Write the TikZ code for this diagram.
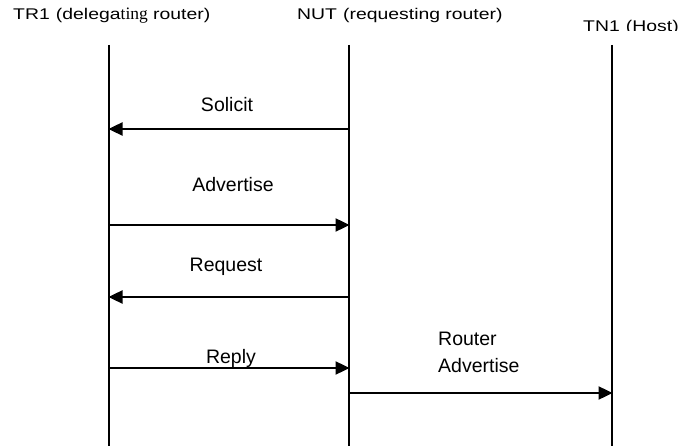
\documentclass[tikz,border=0pt]{standalone}
\usepackage{fontspec}
\setmainfont{Liberation Sans}
\newfontfamily\titlefont[FakeStretch=1.25]{Liberation Sans}
\newfontfamily\minchopart{Liberation Serif}
\usetikzlibrary{arrows.meta}
\tikzset{
  lifeline/.style={line width=1.8pt, draw=black},
  msg/.style={line width=2.4pt, draw=black, -{Triangle[length=14pt,width=13pt]}, shorten >=-0.5pt},
  msglabel/.style={inner sep=0pt, anchor=base, font=\fontsize{19.5}{24}\selectfont},
  ralabel/.style={inner sep=0pt, anchor=base west, font=\fontsize{19.5}{24}\selectfont},
  titlelabel/.style={inner sep=0pt, anchor=base west, font=\titlefont\fontsize{15.5}{18}\selectfont}
}
\begin{document}
\begin{tikzpicture}[x=1pt,y=-1pt]
\useasboundingbox (0,0) rectangle (683,446);
% titles
\node[titlelabel] (t1) at (13,19.5) {TR1\hspace{0.4em}(delega{\minchopart\fontsize{17.5}{18}\selectfont ting} router)};
\node[titlelabel] (t2) at (297,19.5) {NUT\hspace{0.4em}(requesting router)};
\begin{scope}
\clip (500,0) rectangle (683,30.7);
\node[titlelabel] (t3) at (583,31.5) {TN1\hspace{0.4em}(Host)};
\end{scope}
% lifelines
\coordinate (trtop) at (109,45);  \coordinate (trbot) at (109,446);
\coordinate (nuttop) at (349,45); \coordinate (nutbot) at (349,446);
\coordinate (tntop) at (612,45);  \coordinate (tnbot) at (612,446);
\draw[lifeline] (trtop) -- (trbot);
\draw[lifeline] (nuttop) -- (nutbot);
\draw[lifeline] (tntop) -- (tnbot);
% message end points
\coordinate (nutS) at (349,129); \coordinate (trS) at (109,129);
\coordinate (trA) at (109,225);  \coordinate (nutA) at (349,225);
\coordinate (nutQ) at (349,297); \coordinate (trQ) at (109,297);
\coordinate (trR) at (109,368);  \coordinate (nutR) at (349,368);
\coordinate (nutRA) at (349,393); \coordinate (tnRA) at (612,393);
% messages
\draw[msg] (nutS) -- (trS);
\draw[msg] (trA) -- (nutA);
\draw[msg] (nutQ) -- (trQ);
\draw[msg] (trR) -- (nutR);
\draw[msg] (nutRA) -- (tnRA);
% labels
\node[msglabel] (lS) at (227,112) {Solicit};
\node[msglabel] (lA) at (233,192) {Advertise};
\node[msglabel] (lQ) at (226,272) {Request};
\node[msglabel] (lR) at (231,363) {Reply};
\node[ralabel] (lRA1) at (438,345) {Router};
\node[ralabel] (lRA2) at (438,373) {Advertise};
\end{tikzpicture}
\end{document}
